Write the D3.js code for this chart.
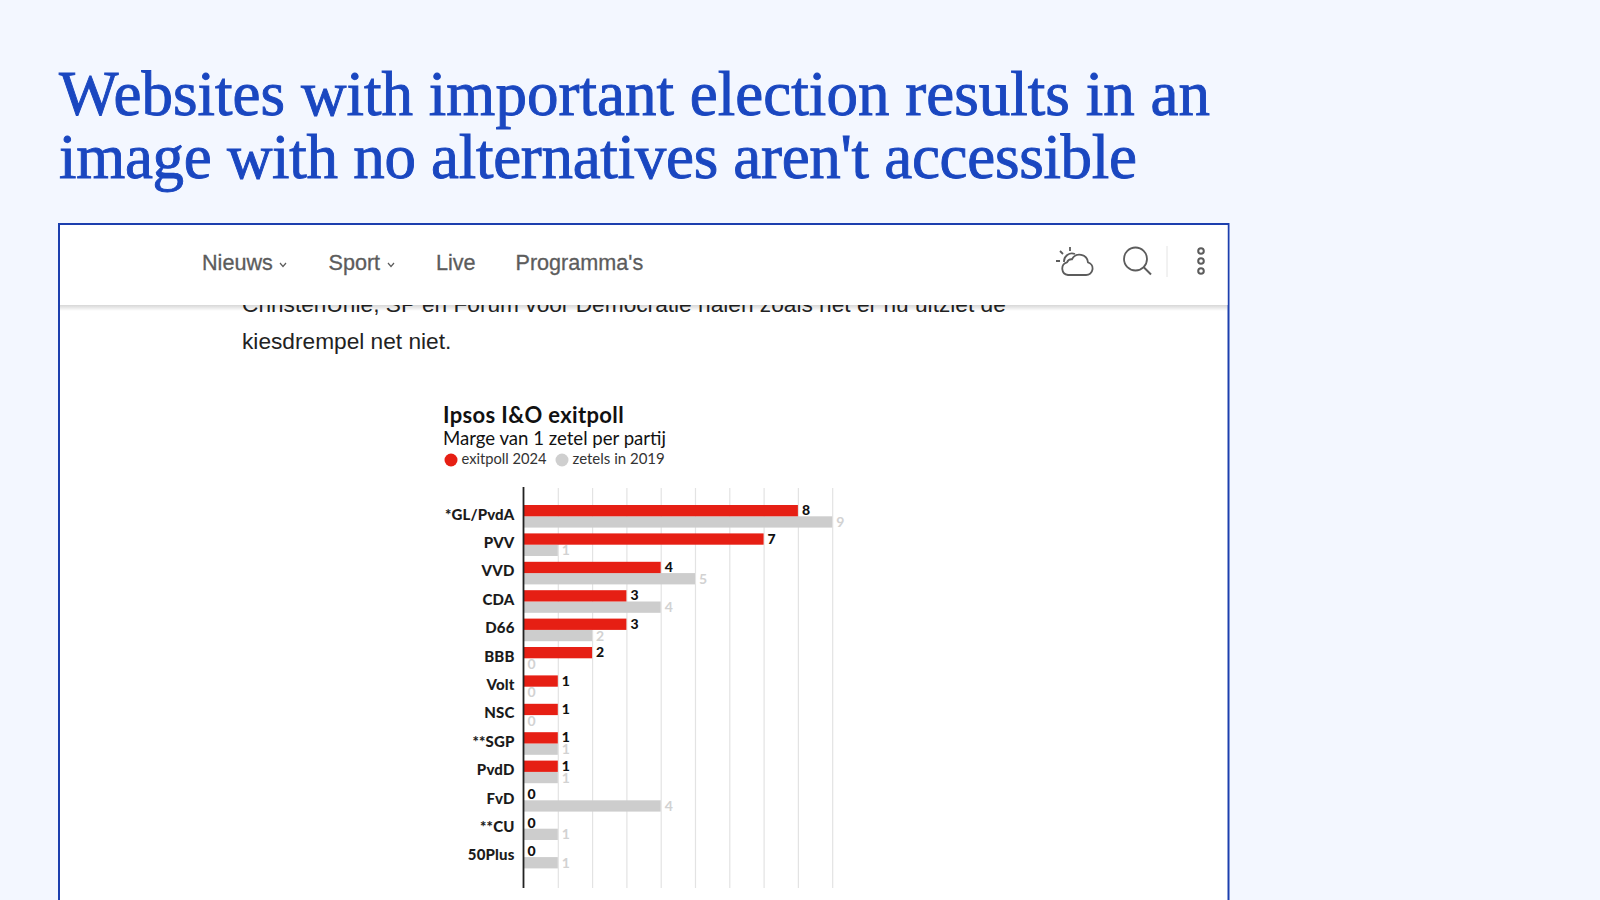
<!DOCTYPE html>
<html>
<head>
<meta charset="utf-8">
<script src="https://cdn.jsdelivr.net/npm/d3@7"></script>
<style>
  body { margin: 0; background: #f3f7ff; }
  svg { display: block; }
  .grid .domain { display: none; }
  .grid line { stroke: #e3e3e3; stroke-width: 1.2; }
  .names .domain { stroke: #222; stroke-width: 1.8; }
  .names line { display: none; }
  .names text { font: 900 15px Lato, sans-serif; fill: #1b1b1b; letter-spacing: 0.15px; }
</style>
</head>
<body>
<div id="chart"></div>
<script>
const titleLines = ["Websites with important election results in an", "image with no alternatives aren't accessible"];
const navItems = ["Nieuws", "Sport", "Live", "Programma's"];
const navX = [202, 328.5, 436, 515.5];
const parties = ["*GL/PvdA", "PVV", "VVD", "CDA", "D66", "BBB", "Volt", "NSC", "**SGP", "PvdD", "FvD", "**CU", "50Plus"];
const exitpoll2024 = [8, 7, 4, 3, 3, 2, 1, 1, 1, 1, 0, 0, 0];
const zetels2019 = [9, 1, 5, 4, 2, 0, 0, 0, 1, 1, 4, 1, 1];
const gridTicks = [1, 2, 3, 4, 5, 6, 7, 8, 9];

const titleWidths = [1151, 1078];

const svg = d3.select("#chart").append("svg").attr("width", 1600).attr("height", 900);

// title
svg.selectAll(".title").data(titleLines).enter().append("text")
  .attr("class", "title")
  .attr("x", 59)
  .attr("y", (d, i) => 115 + i * 63)
  .attr("font-family", "'Liberation Serif', serif")
  .attr("font-size", 63)
  .attr("textLength", (d, i) => titleWidths[i])
  .attr("lengthAdjust", "spacing")
  .attr("fill", "#1a47c0")
  .attr("stroke", "#1a47c0")
  .attr("stroke-width", 0.9)
  .text((d) => d);

// the screenshot frame
svg.append("rect").attr("x", 59).attr("y", 224).attr("width", 1169.5).attr("height", 690)
  .attr("fill", "#fff").attr("stroke", "#1c3fae").attr("stroke-width", 2);

// article text, top line runs under the nav bar
const bodyText = svg.append("g").attr("font-family", "'Liberation Sans', sans-serif")
  .attr("font-size", 22.7).attr("fill", "#222");
bodyText.append("text").attr("x", 242).attr("y", 312)
  .text("ChristenUnie, SP en Forum voor Democratie halen zoals het er nu uitziet de");
bodyText.append("text").attr("x", 242).attr("y", 349).text("kiesdrempel net niet.");

// nav bar
const shadow = svg.append("defs").append("linearGradient").attr("id", "navShadow")
  .attr("x1", 0).attr("x2", 0).attr("y1", 0).attr("y2", 1);
shadow.append("stop").attr("offset", 0).attr("stop-color", "#000").attr("stop-opacity", 0.16);
shadow.append("stop").attr("offset", 1).attr("stop-color", "#000").attr("stop-opacity", 0);
svg.append("rect").attr("x", 60).attr("y", 225).attr("width", 1167.5).attr("height", 80).attr("fill", "#fff");
svg.append("rect").attr("x", 60).attr("y", 305).attr("width", 1167.5).attr("height", 6).attr("fill", "url(#navShadow)");

svg.selectAll(".nav").data(navItems).enter().append("text")
  .attr("class", "nav")
  .attr("x", (d, i) => navX[i])
  .attr("y", 269.5)
  .attr("font-family", "'Liberation Sans', sans-serif")
  .attr("font-size", 21.6)
  .attr("fill", "#5c5c5c")
  .attr("stroke", "#5c5c5c")
  .attr("stroke-width", 0.3)
  .text((d) => d);

// small carets after Nieuws and Sport
const icons = svg.append("g").attr("fill", "none").attr("stroke", "#5c5c5c").attr("stroke-width", 1.2);
icons.append("path").attr("d", "M280,263 l3,3.5 l3,-3.5");
icons.append("path").attr("d", "M388,263 l3,3.5 l3,-3.5");

// weather
icons.append("path").attr("stroke-width", 1.8)
  .attr("d", "M1068,275 h18 a6.5,6.5 0 0 0 2,-12.7 a8.5,8.5 0 0 0 -16,-3 a5,5 0 0 0 -5,3 a6.5,6.5 0 0 0 1,12.7 z");
icons.append("path").attr("stroke-width", 1.8)
  .attr("d", "M1064,262 a8,8 0 0 1 11,-8 M1056,261 h4 M1060,251 l3,3 M1070,247 v4");

// search
icons.append("circle").attr("cx", 1135.5).attr("cy", 259).attr("r", 11.5).attr("stroke-width", 1.8);
icons.append("path").attr("d", "M1143.5,267 L1151,274.5").attr("stroke-width", 2);

// separator and menu dots
svg.append("line").attr("x1", 1167).attr("x2", 1167).attr("y1", 246).attr("y2", 277).attr("stroke", "#e4e4e4");
[251, 261, 271].forEach((cy) => {
  icons.append("circle").attr("cx", 1201).attr("cy", cy).attr("r", 2.8).attr("stroke-width", 2);
});

// chart header
const header = svg.append("g").attr("font-family", "Lato, sans-serif").attr("fill", "#111");
header.append("text").attr("x", 443).attr("y", 423).attr("font-size", 22).attr("font-weight", 700)
  .attr("letter-spacing", 0.35).text("Ipsos I&O exitpoll");
header.append("text").attr("x", 443).attr("y", 445).attr("font-size", 18.6).text("Marge van 1 zetel per partij");
header.append("circle").attr("cx", 451).attr("cy", 460).attr("r", 6.5).attr("fill", "#e61f14");
header.append("text").attr("x", 461.5).attr("y", 464).attr("font-size", 14.7).attr("fill", "#333").text("exitpoll 2024");
header.append("circle").attr("cx", 562).attr("cy", 460).attr("r", 6.5).attr("fill", "#cfcfcf");
header.append("text").attr("x", 572.5).attr("y", 464).attr("font-size", 15).attr("fill", "#333").text("zetels in 2019");

// scales
const xScale = d3.scaleLinear().domain([0, 9]).range([523.5, 832.2]);
const yScale = d3.scaleBand().domain(parties).range([502, 871.2]).padding(0);
const barH = 11.3;
const barTop = 3;

// gridlines
svg.append("g").attr("class", "grid")
  .attr("transform", "translate(0,488)")
  .call(d3.axisBottom(xScale).tickValues(gridTicks).tickSize(400).tickFormat(""));

// bars
const rows = parties.map((p, i) => ({ party: p, now: exitpoll2024[i], prev: zetels2019[i] }));

svg.selectAll(".bar-prev").data(rows).enter().append("rect")
  .attr("class", "bar-prev")
  .attr("x", xScale(0))
  .attr("y", (d) => yScale(d.party) + barTop + barH)
  .attr("width", (d) => xScale(d.prev) - xScale(0))
  .attr("height", barH)
  .attr("fill", "#cdcdcd");

svg.selectAll(".bar-now").data(rows).enter().append("rect")
  .attr("class", "bar-now")
  .attr("x", xScale(0))
  .attr("y", (d) => yScale(d.party) + barTop)
  .attr("width", (d) => xScale(d.now) - xScale(0))
  .attr("height", barH)
  .attr("fill", "#e61f14");

// value labels
svg.selectAll(".val-prev").data(rows).enter().append("text")
  .attr("class", "val-prev")
  .attr("x", (d) => xScale(d.prev) + 4)
  .attr("y", (d) => yScale(d.party) + barTop + barH * 1.5 + 5)
  .attr("font-family", "Lato, sans-serif")
  .attr("font-size", 14)
  .attr("font-weight", 700)
  .attr("fill", "#d2d2d2")
  .text((d) => d.prev);

svg.selectAll(".val-now").data(rows).enter().append("text")
  .attr("class", "val-now")
  .attr("x", (d) => xScale(d.now) + 4)
  .attr("y", (d) => yScale(d.party) + barTop + barH * 0.5 + 4.5)
  .attr("font-family", "Lato, sans-serif")
  .attr("font-size", 14)
  .attr("font-weight", 900)
  .attr("fill", "#111")
  .text((d) => d.now);

// party names and the zero line
const names = svg.append("g").attr("class", "names")
  .attr("transform", `translate(${xScale(0)},0)`)
  .call(d3.axisLeft(yScale).tickSize(0).tickPadding(9));
names.select(".domain").attr("d", "M0,487V888");
names.selectAll("text").attr("dy", "0.22em");
</script>
</body>
</html>
